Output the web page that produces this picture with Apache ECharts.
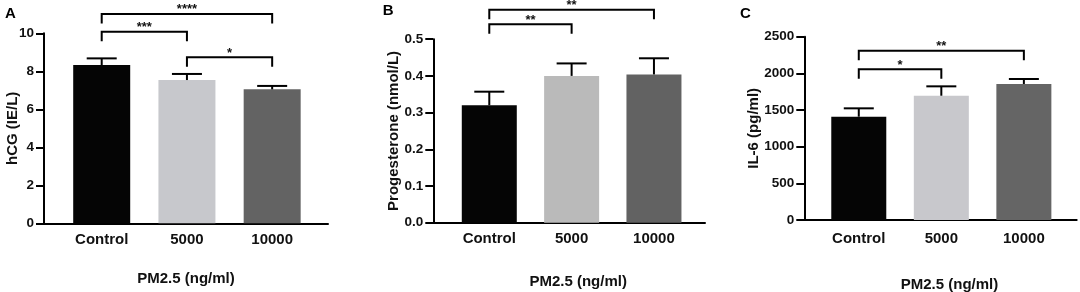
<!DOCTYPE html>
<html><head><meta charset="utf-8">
<script src="https://cdn.jsdelivr.net/npm/echarts@6/dist/echarts.min.js"></script>
<style>html,body{margin:0;padding:0;background:#fff}#c{width:1080px;height:292px}</style>
</head><body><div id="c"></div>
<script>
// ---- data ----
const categories = ['Control', '5000', '10000'];
const xTitle = 'PM2.5 (ng/ml)';

const hcgMean = [8.33, 7.54, 7.05];
const hcgSd = [0.35, 0.32, 0.18];
const hcgBrackets = [[0, 2, 11.02], [0, 1, 10.08], [1, 2, 8.74]];
const hcgStars = ['****', '***', '*'];

const progMean = [0.32, 0.40, 0.404];
const progSd = [0.037, 0.034, 0.044];
const progBrackets = [[0, 2, 0.58], [0, 1, 0.541]];
const progStars = ['**', '**'];

const il6Mean = [1409, 1695, 1855];
const il6Sd = [114, 128, 68];
const il6Brackets = [[0, 2, 2309], [0, 1, 2055]];
const il6Stars = ['**', '*'];

// ---- styles / layout ----
const FONT = '"Liberation Sans", Arial, Helvetica, sans-serif';
const INK = '#111';
const panels = [
  { letter: 'A', mean: hcgMean, sd: hcgSd, br: hcgBrackets, stars: hcgStars, yName: 'hCG (IE/L)',
    yMax: 10, yInt: 2, dec: 0, colors: ['#050505', '#c7c8cc', '#636363'],
    grid: { left: 44, top: 33.3, width: 284, height: 190 }, xMin: -0.677, xMax: 2.655, barW: 57,
    yGap: 24, xGap: 48, xPad: 0, letterX: 5, letterY: 13.5, lblMargin: 9 },
  { letter: 'B', mean: progMean, sd: progSd, br: progBrackets, stars: progStars, yName: 'Progesterone (nmol/L)',
    yMax: 0.5, yInt: 0.1, dec: 1, colors: ['#050505', '#bababa', '#626262'],
    grid: { left: 433.3, top: 39.2, width: 271.7, height: 183.5 }, xMin: -0.68, xMax: 2.62, barW: 55,
    yGap: 32, xGap: 52, xPad: 18, letterX: 382.7, letterY: 10.5, lblMargin: 9 },
  { letter: 'C', mean: il6Mean, sd: il6Sd, br: il6Brackets, stars: il6Stars, yName: 'IL-6 (pg/ml)',
    yMax: 2500, yInt: 500, dec: 0, colors: ['#050505', '#c8c8cc', '#656565'],
    grid: { left: 804.3, top: 36.7, width: 272.4, height: 183.3 }, xMin: -0.66, xMax: 2.64, barW: 55,
    yGap: 43, xGap: 57, xPad: 18, letterX: 740, letterY: 13.5, lblMargin: 11 }
];

const option = { animation: false, backgroundColor: '#fff', grid: [], xAxis: [], yAxis: [], series: [], graphic: [] };

panels.forEach((p, i) => {
  option.grid.push(Object.assign({ containLabel: false, outerBoundsMode: 'none' }, p.grid));
  option.xAxis.push({
    type: 'value', gridIndex: i, min: p.xMin, max: p.xMax,
    name: xTitle, nameLocation: 'middle', nameGap: p.xGap, nameMoveOverlap: false,
    nameTextStyle: { fontFamily: FONT, fontWeight: 'bold', fontSize: 15, color: INK, padding: [0, 0, 0, p.xPad] },
    axisLine: { show: true, onZero: false, lineStyle: { color: '#000', width: 2 } },
    axisTick: { show: false },
    splitLine: { show: false },
    axisLabel: {
      customValues: [0, 1, 2], margin: p.lblMargin,
      formatter: v => categories[Math.round(v)],
      fontFamily: FONT, fontWeight: 'bold', fontSize: 15, color: INK
    }
  });
  option.yAxis.push({
    type: 'value', gridIndex: i, min: 0, max: p.yMax, interval: p.yInt,
    name: p.yName, nameLocation: 'middle', nameGap: p.yGap, nameMoveOverlap: false,
    nameTextStyle: { fontFamily: FONT, fontWeight: 'bold', fontSize: 15, color: INK },
    axisLine: { show: true, onZero: false, lineStyle: { color: '#000', width: 2 } },
    axisTick: { show: true, length: 8, lineStyle: { color: '#000', width: 2 } },
    splitLine: { show: false },
    axisLabel: { margin: 10, fontFamily: FONT, fontWeight: 'bold', fontSize: 13.5, color: INK,
      formatter: v => Number(v).toFixed(p.dec) }
  });
  option.series.push({
    type: 'bar', xAxisIndex: i, yAxisIndex: i, barWidth: p.barW,
    data: p.mean.map((v, k) => ({ value: [k, v], itemStyle: { color: p.colors[k] } })),
    z: 2
  });
  option.series.push({
    type: 'custom', xAxisIndex: i, yAxisIndex: i, z: 3,
    encode: { x: 0, y: 1 },
    data: p.mean.map((v, k) => [k, v, p.sd[k]]),
    renderItem: (params, api) => {
      const x = api.value(0), m = api.value(1), s = api.value(2);
      const a = api.coord([x, m]), b = api.coord([x, m + s]);
      const st = { stroke: '#000', lineWidth: 2 };
      return { type: 'group', children: [
        { type: 'line', shape: { x1: a[0], y1: a[1], x2: b[0], y2: b[1] }, style: st },
        { type: 'line', shape: { x1: b[0] - 15, y1: b[1], x2: b[0] + 15, y2: b[1] }, style: st }
      ]};
    }
  });
  option.series.push({
    type: 'custom', xAxisIndex: i, yAxisIndex: i, z: 4, clip: false,
    encode: { x: [0, 1], y: 2 },
    data: p.br,
    renderItem: (params, api) => {
      const a = api.coord([api.value(0), api.value(2)]);
      const b = api.coord([api.value(1), api.value(2)]);
      const drop = 9.5;
      return { type: 'group', children: [
        { type: 'polyline', shape: { points: [[a[0], a[1] + drop], [a[0], a[1]], [b[0], a[1]], [b[0], a[1] + drop]] },
          style: { stroke: '#000', lineWidth: 2, fill: null } },
        { type: 'text', x: (a[0] + b[0]) / 2, y: a[1] - 4,
          style: { text: p.stars[params.dataIndex], fontFamily: FONT, fontWeight: 'bold', fontSize: 13,
            fill: INK, align: 'center', verticalAlign: 'middle' } }
      ]};
    }
  });
  option.graphic.push({
    type: 'text', x: p.letterX, y: p.letterY,
    style: { text: p.letter, fontFamily: FONT, fontWeight: 'bold', fontSize: 15, fill: '#000', align: 'left', verticalAlign: 'middle' }
  });
});

const chart = echarts.init(document.getElementById('c'), null, { renderer: 'canvas' });
chart.setOption(option);
</script>
</body></html>
